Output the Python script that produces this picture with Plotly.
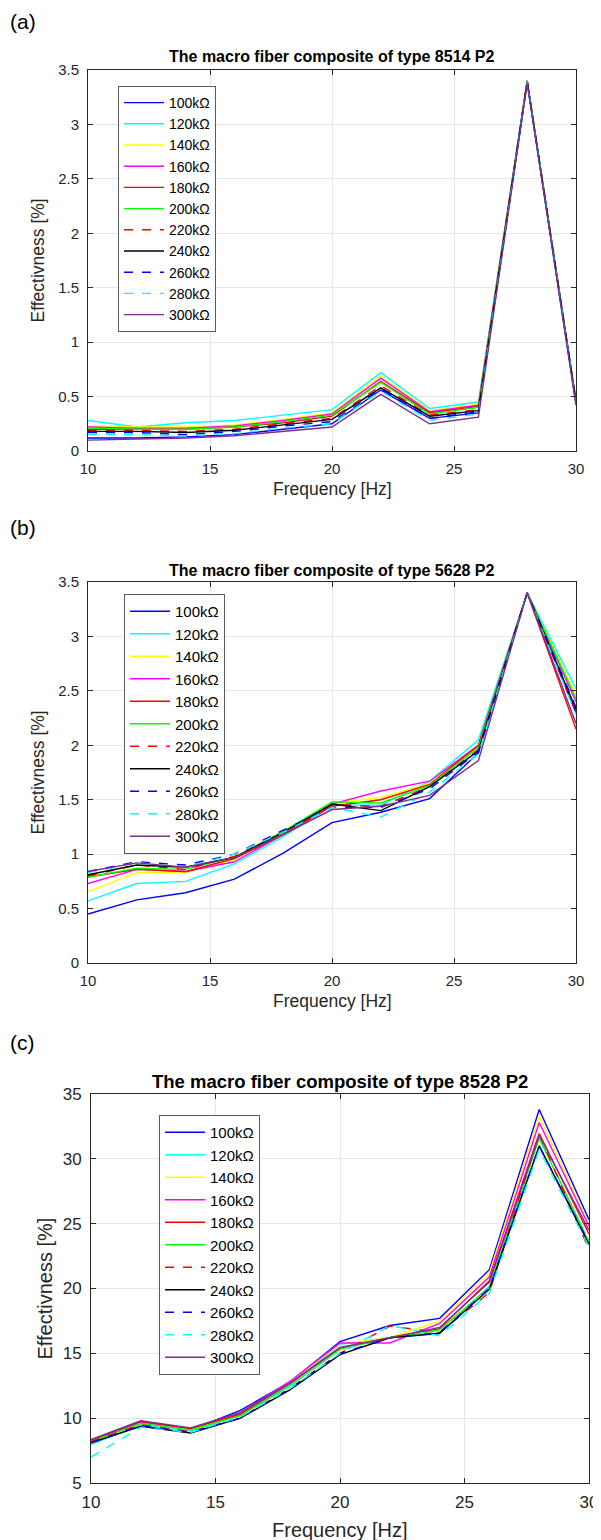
import plotly.graph_objects as go

# page body has an 8px margin, so the figure is drawn 8px in from the top-left
OFF = 8
W, H = 601 - OFF, 1540 - OFF

freq = [10, 12, 14, 16, 18, 20, 22, 24, 26, 28, 30]
resistances = ["100kΩ", "120kΩ", "140kΩ", "160kΩ", "180kΩ", "200kΩ",
               "220kΩ", "240kΩ", "260kΩ", "280kΩ", "300kΩ"]
line_colors = ["#0000ff", "#00ffff", "#ffff00", "#ff00ff", "#ff0000", "#00ff00",
               "#ff0000", "#000000", "#0000ff", "#00ffff", "#7e2f8e"]
line_dashes = ["solid", "solid", "solid", "solid", "solid", "solid",
               "dash", "solid", "dash", "dash", "solid"]

# type 8514 P2
eff_8514 = [
    [0.12, 0.12, 0.13, 0.15, 0.20, 0.25, 0.56, 0.30, 0.35, 3.39, 0.44],
    [0.28, 0.22, 0.26, 0.28, 0.33, 0.38, 0.72, 0.39, 0.45, 3.40, 0.47],
    [0.23, 0.22, 0.22, 0.24, 0.29, 0.35, 0.69, 0.37, 0.43, 3.40, 0.46],
    [0.22, 0.21, 0.21, 0.23, 0.28, 0.34, 0.67, 0.36, 0.42, 3.40, 0.46],
    [0.20, 0.20, 0.20, 0.22, 0.26, 0.32, 0.64, 0.35, 0.41, 3.40, 0.46],
    [0.21, 0.20, 0.20, 0.22, 0.27, 0.33, 0.63, 0.34, 0.40, 3.40, 0.46],
    [0.19, 0.19, 0.18, 0.20, 0.25, 0.30, 0.60, 0.33, 0.38, 3.39, 0.45],
    [0.18, 0.18, 0.17, 0.19, 0.24, 0.29, 0.58, 0.32, 0.37, 3.39, 0.45],
    [0.17, 0.17, 0.15, 0.18, 0.23, 0.27, 0.57, 0.30, 0.36, 3.39, 0.44],
    [0.15, 0.15, 0.14, 0.16, 0.21, 0.25, 0.55, 0.28, 0.34, 3.39, 0.44],
    [0.10, 0.11, 0.12, 0.14, 0.18, 0.22, 0.52, 0.25, 0.31, 3.38, 0.42],
]

# type 5628 P2
eff_5628 = [
    [0.45, 0.58, 0.645, 0.77, 1.01, 1.29, 1.385, 1.51, 1.93, 3.40, 2.30],
    [0.57, 0.73, 0.75, 0.91, 1.16, 1.45, 1.45, 1.67, 2.05, 3.40, 2.52],
    [0.655, 0.83, 0.83, 0.95, 1.20, 1.47, 1.52, 1.65, 2.00, 3.40, 2.46],
    [0.73, 0.86, 0.84, 0.93, 1.18, 1.46, 1.58, 1.67, 2.00, 3.40, 2.40],
    [0.79, 0.86, 0.84, 0.96, 1.18, 1.44, 1.50, 1.64, 2.00, 3.40, 2.15],
    [0.79, 0.87, 0.86, 0.97, 1.21, 1.48, 1.47, 1.63, 1.98, 3.40, 2.43],
    [0.80, 0.90, 0.86, 0.98, 1.20, 1.45, 1.44, 1.62, 1.96, 3.40, 2.30],
    [0.81, 0.90, 0.88, 0.97, 1.20, 1.46, 1.40, 1.62, 1.95, 3.40, 2.33],
    [0.84, 0.93, 0.90, 1.00, 1.22, 1.43, 1.43, 1.60, 1.94, 3.40, 2.35],
    [0.83, 0.92, 0.88, 1.00, 1.20, 1.43, 1.34, 1.57, 1.92, 3.40, 2.28],
    [0.84, 0.92, 0.88, 0.97, 1.18, 1.41, 1.44, 1.54, 1.86, 3.40, 2.20],
]

# type 8528 P2
eff_8528 = [
    [8.30, 9.60, 9.10, 10.6, 12.8, 15.9, 17.15, 17.7, 21.45, 33.8, 25.3],
    [7.96, 9.50, 9.00, 10.2, 12.6, 15.7, 16.2, 16.5, 20.2, 31.0, 23.5],
    [8.20, 9.60, 9.10, 10.4, 12.8, 15.75, 16.2, 17.5, 21.2, 33.3, 24.9],
    [8.30, 9.70, 9.20, 10.4, 12.85, 15.8, 15.8, 17.3, 20.9, 32.8, 24.8],
    [8.30, 9.75, 9.20, 10.3, 12.7, 15.4, 16.2, 16.9, 20.6, 31.95, 24.2],
    [8.20, 9.60, 9.10, 10.2, 12.5, 15.3, 16.2, 16.8, 20.1, 31.6, 23.6],
    [8.20, 9.50, 8.95, 10.0, 12.3, 15.0, 17.1, 16.6, 19.7, 31.9, 23.0],
    [8.10, 9.37, 8.86, 10.0, 12.2, 14.9, 16.2, 16.55, 19.95, 31.0, 23.4],
    [8.10, 9.40, 8.90, 10.0, 12.3, 15.0, 16.2, 16.6, 20.0, 31.0, 23.5],
    [7.00, 9.30, 8.90, 10.1, 12.3, 15.0, 17.15, 16.35, 19.65, 30.7, 23.2],
    [8.35, 9.80, 9.25, 10.45, 12.7, 15.45, 16.2, 17.0, 20.5, 31.8, 24.5],
]

titles = ["The macro fiber composite of type 8514 P2",
          "The macro fiber composite of type 5628 P2",
          "The macro fiber composite of type 8528 P2"]
panel_tags = ["(a)", "(b)", "(c)"]

FONT = "Liberation Sans, Arial, sans-serif"
AXC = "#262626"


def px_x(v):
    return (v - OFF) / W


def px_y(v):
    return 1 - (v - OFF) / H


# plot boxes in reference pixels: left, right, top, bottom
boxes = [(88, 576, 70, 451), (88, 576, 582, 963), (91, 589, 1094, 1483)]
yranges = [(0, 3.5, 0.5), (0, 3.5, 0.5), (5, 35, 5)]
tick_sizes = [15, 15, 17]
label_sizes = [17.5, 17.5, 20]
title_sizes = [16, 16, 18.5]
title_y = [57, 570, 1081]
ylabel_x = [37, 37, 44]
legend_sizes = [14, 15, 15]
legend_pos = [(118, 86), (124, 594), (159, 1115)]
tag_y = [22, 528, 1042]
datasets = [eff_8514, eff_5628, eff_8528]

fig = go.Figure()
annotations = []
layout = {}

for p in range(3):
    sfx = "" if p == 0 else str(p + 1)
    leg = "legend" + sfx
    for k, name in enumerate(resistances):
        fig.add_trace(go.Scatter(
            x=freq, y=datasets[p][k], mode="lines", name=name,
            line=dict(color=line_colors[k], dash=line_dashes[k], width=1.4),
            xaxis="x" + sfx, yaxis="y" + sfx, legend=leg,
        ))

    l, r, t, b = boxes[p]
    y0, y1, dy = yranges[p]
    common = dict(showline=True, linecolor=AXC, linewidth=1, mirror="ticks",
                  ticks="inside", ticklen=5, tickcolor=AXC, showgrid=True,
                  gridcolor="#e6e6e6", gridwidth=1, zeroline=False,
                  automargin=False,
                  tickfont=dict(family=FONT, size=tick_sizes[p], color=AXC))
    layout["xaxis" + sfx] = dict(common, domain=[px_x(l), px_x(r)], range=[10, 30],
                                 dtick=5, tick0=10, anchor="y" + sfx,
                                 ticklabelstandoff=4)
    layout["yaxis" + sfx] = dict(common, domain=[px_y(b), px_y(t)], range=[y0, y1],
                                 dtick=dy, tick0=y0, anchor="x" + sfx,
                                 ticklabelstandoff=5)
    lx, ly = legend_pos[p]
    layout[leg] = dict(x=px_x(lx), y=px_y(ly), xanchor="left", yanchor="top",
                       bgcolor="white", bordercolor="#5a5a5a", borderwidth=1,
                       font=dict(family=FONT, size=legend_sizes[p], color="black"),
                       traceorder="normal", itemwidth=40)

    annotations.append(dict(text="<b>%s</b>" % titles[p], x=px_x((l + r) / 2),
                            y=px_y(title_y[p]), xref="paper", yref="paper",
                            xanchor="center", yanchor="middle", showarrow=False,
                            font=dict(family=FONT, size=title_sizes[p], color="black")))
    annotations.append(dict(text="Frequency [Hz]", x=px_x((l + r) / 2),
                            y=px_y(b + 38 + (p == 2) * 9), xref="paper", yref="paper",
                            xanchor="center", yanchor="middle", showarrow=False,
                            font=dict(family=FONT, size=label_sizes[p], color=AXC)))
    annotations.append(dict(text="Effectivness [%]", x=px_x(ylabel_x[p]),
                            y=px_y((t + b) / 2), xref="paper", yref="paper",
                            xanchor="center", yanchor="middle", showarrow=False,
                            textangle=-90,
                            font=dict(family=FONT, size=label_sizes[p], color=AXC)))
    annotations.append(dict(text=panel_tags[p], x=px_x(8), y=px_y(tag_y[p]),
                            xref="paper", yref="paper", xanchor="left",
                            yanchor="middle", showarrow=False,
                            font=dict(family=FONT, size=21, color="black")))

fig.update_layout(
    width=W, height=H,
    margin=dict(l=0, r=0, t=0, b=0),
    paper_bgcolor="white", plot_bgcolor="white",
    template="none",
    annotations=annotations,
    **layout,
)

fig.write_html("out.html")
